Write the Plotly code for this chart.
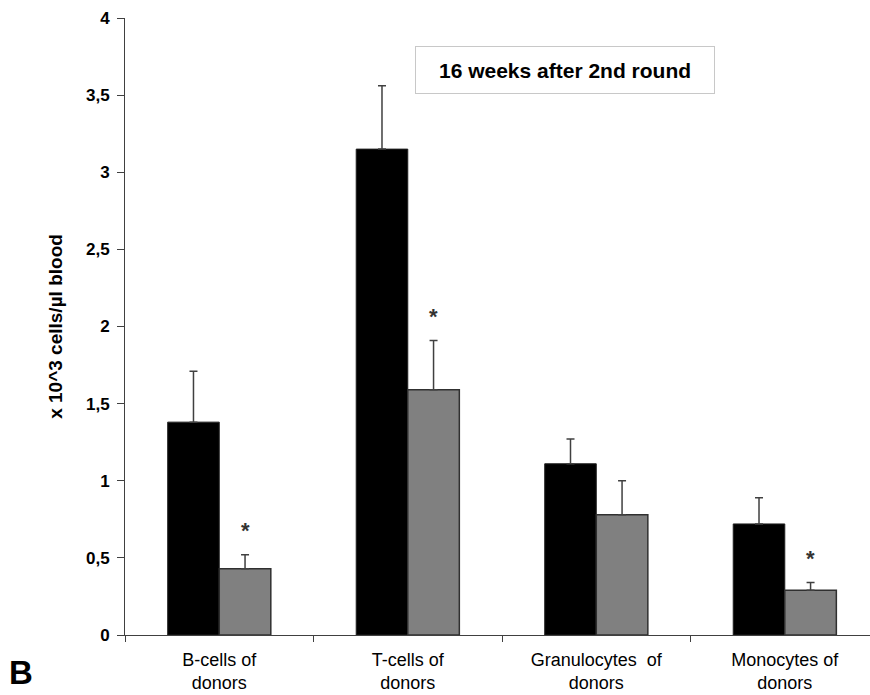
import plotly.graph_objects as go

# Data (x 10^3 cells/µl blood)
categories = ["B-cells of<br>donors", "T-cells of<br>donors", "Granulocytes  of<br>donors", "Monocytes of<br>donors"]
control_mean = [1.38, 3.15, 1.11, 0.72]
control_err = [0.33, 0.41, 0.16, 0.17]
treated_mean = [0.43, 1.59, 0.78, 0.29]
treated_err = [0.09, 0.32, 0.22, 0.05]
significant = [True, True, False, True]

FONT = "Arial, Liberation Sans, sans-serif"
AXIS_COLOR = "#404040"

fig = go.Figure()

fig.add_trace(
    go.Bar(
        x=categories,
        y=control_mean,
        marker=dict(color="#000000", line=dict(color="#202020", width=1)),
        error_y=dict(
            type="data",
            symmetric=False,
            array=control_err,
            arrayminus=[0] * len(control_err),
            color=AXIS_COLOR,
            thickness=1.5,
            width=4,
        ),
    )
)

fig.add_trace(
    go.Bar(
        x=categories,
        y=treated_mean,
        marker=dict(color="#808080", line=dict(color="#303030", width=1.5)),
        error_y=dict(
            type="data",
            symmetric=False,
            array=treated_err,
            arrayminus=[0] * len(treated_err),
            color=AXIS_COLOR,
            thickness=1.5,
            width=4,
        ),
    )
)

# Asterisks above the significant grey bars
annotations = []
for cat, m, e, sig in zip(categories, treated_mean, treated_err, significant):
    if sig:
        annotations.append(
            dict(
                x=cat,
                y=m + e,
                xref="x",
                yref="y",
                text="<b>*</b>",
                showarrow=False,
                xshift=26,
                yshift=24,
                font=dict(family=FONT, size=22, color="#333333"),
            )
        )

# Boxed label at the top
annotations.append(
    dict(
        x=0.5906,
        y=0.9546,
        xref="paper",
        yref="paper",
        text="<b>16 weeks after 2nd round</b>",
        showarrow=False,
        font=dict(family=FONT, size=21, color="#000000"),
        bordercolor="#c8c8c8",
        borderwidth=1,
        borderpad=1,
        width=296,
        height=44,
        bgcolor="white",
    )
)

# Panel letter
annotations.append(
    dict(
        x=-0.159,
        y=-0.094,
        xref="paper",
        yref="paper",
        xanchor="left",
        yanchor="bottom",
        text="<b>B</b>",
        showarrow=False,
        font=dict(family=FONT, size=33, color="#000000"),
    )
)

fig.update_layout(
    width=870,
    height=695,
    autosize=False,
    margin=dict(l=125, r=0, t=18, b=60),
    plot_bgcolor="white",
    paper_bgcolor="white",
    showlegend=False,
    barmode="group",
    bargap=0.453,
    bargroupgap=0,
    separators=", ",
    font=dict(family=FONT, color="#000000"),
    annotations=annotations,
    xaxis=dict(
        type="category",
        range=[-0.5, 3.452],
        automargin=False,
        showline=True,
        linecolor=AXIS_COLOR,
        linewidth=1,
        ticks="outside",
        tickson="boundaries",
        ticklen=6,
        tickcolor=AXIS_COLOR,
        ticklabelstandoff=8,
        showgrid=False,
        tickfont=dict(family=FONT, size=18, color="#000000"),
    ),
    yaxis=dict(
        range=[0, 4],
        dtick=0.5,
        automargin=False,
        showline=True,
        linecolor=AXIS_COLOR,
        linewidth=1,
        ticks="outside",
        ticklen=7,
        tickcolor=AXIS_COLOR,
        ticklabelstandoff=4,
        showgrid=False,
        zeroline=False,
        tickfont=dict(family=FONT, size=17, color="#000000", weight="bold"),
        title=dict(
            text="<b>x 10^3 cells/µl blood</b>",
            font=dict(family=FONT, size=19, color="#000000"),
            standoff=18,
        ),
    ),
)

# drop the default body margin so the figure sits at the page corner
fig.write_html(
    "out.html",
    config={"displayModeBar": False},
    post_script="document.body.style.margin = '0';",
)
